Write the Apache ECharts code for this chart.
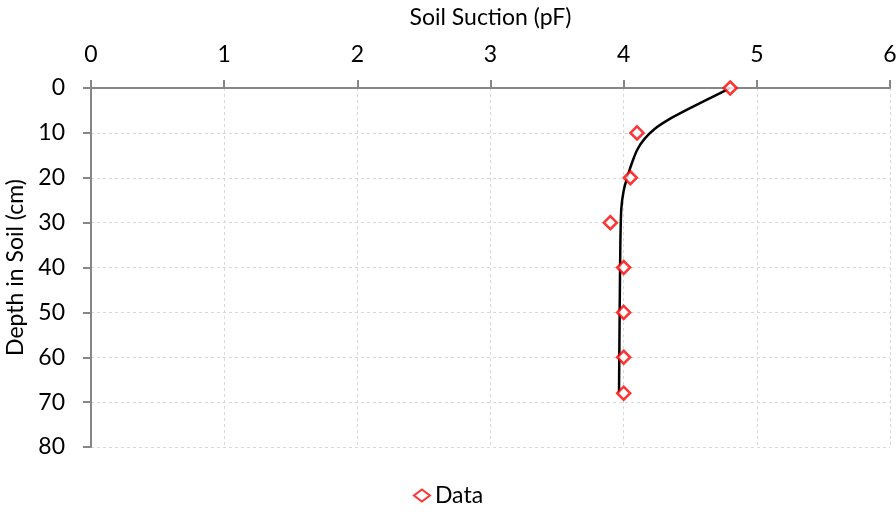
<!DOCTYPE html>
<html>
<head>
<meta charset="utf-8">
<script src="https://cdn.jsdelivr.net/npm/echarts@6/dist/echarts.min.js"></script>
<style>html,body{margin:0;padding:0;background:#fff}#c{width:896px;height:512px}</style>
</head>
<body>
<div id="c"></div>
<script>
var suction = [4.8, 4.1, 4.05, 3.9, 4.0, 4.0, 4.0, 4.0];
var depth = [0, 10, 20, 30, 40, 50, 60, 68];
var fitSuction = [4.8, 4.656, 4.506, 4.356, 4.23, 4.155, 4.105, 4.068, 4.03, 4.0, 3.982, 3.975, 3.97, 3.965];
var fitDepth = [0, 2.16, 4.38, 6.73, 9.18, 11.4, 13.6, 16.2, 19.6, 22.9, 27, 35, 50, 68];

var FONT = 'Lato';
var FS = 23;
var chart = echarts.init(document.getElementById('c'));
var axisLine = {show: true, lineStyle: {color: '#868686', width: 2}};
var axisTick = {show: true, inside: false, length: 8, lineStyle: {color: '#868686', width: 2}};
var splitLine = {show: true, lineStyle: {color: '#d9d9d9', type: [3, 3], width: 1}};
chart.setOption({
  animation: false,
  textStyle: {fontFamily: FONT},
  grid: {left: 91, top: 88, right: 6, bottom: 65, containLabel: false, outerBoundsMode: 'none'},
  legend: {
    data: ['Data'], bottom: 0, left: 'center', itemWidth: 16, itemHeight: 12, itemGap: 4,
    textStyle: {fontFamily: FONT, fontSize: FS, color: '#000'}
  },
  xAxis: {
    type: 'value', position: 'top', min: 0, max: 6, interval: 1,
    name: 'Soil Suction (pF)', nameLocation: 'middle', nameGap: 59,
    nameTextStyle: {fontFamily: FONT, fontSize: FS, color: '#000'},
    axisLine: axisLine, axisTick: axisTick, splitLine: splitLine,
    axisLabel: {fontFamily: FONT, fontSize: FS, color: '#000', margin: 22}
  },
  yAxis: {
    type: 'value', inverse: true, min: 0, max: 80, interval: 10,
    name: 'Depth in Soil (cm)', nameLocation: 'middle', nameGap: 59, nameRotate: 90,
    nameTextStyle: {fontFamily: FONT, fontSize: FS, color: '#000'},
    axisLine: axisLine, axisTick: axisTick, splitLine: splitLine,
    axisLabel: {fontFamily: FONT, fontSize: FS, color: '#000', margin: 26}
  },
  series: [
    {
      name: 'Fit', type: 'line', smooth: 0.2, showSymbol: false, symbol: 'none',
      lineStyle: {color: '#000', width: 2.5}, z: 2,
      data: fitSuction.map(function (v, i) { return [v, fitDepth[i]]; })
    },
    {
      name: 'Data', type: 'scatter', symbol: 'diamond', symbolSize: 13,
      itemStyle: {color: '#fff', borderColor: '#ff0000', borderWidth: 2.5}, z: 3,
      data: suction.map(function (v, i) { return [v, depth[i]]; })
    }
  ]
});
</script>
</body>
</html>
